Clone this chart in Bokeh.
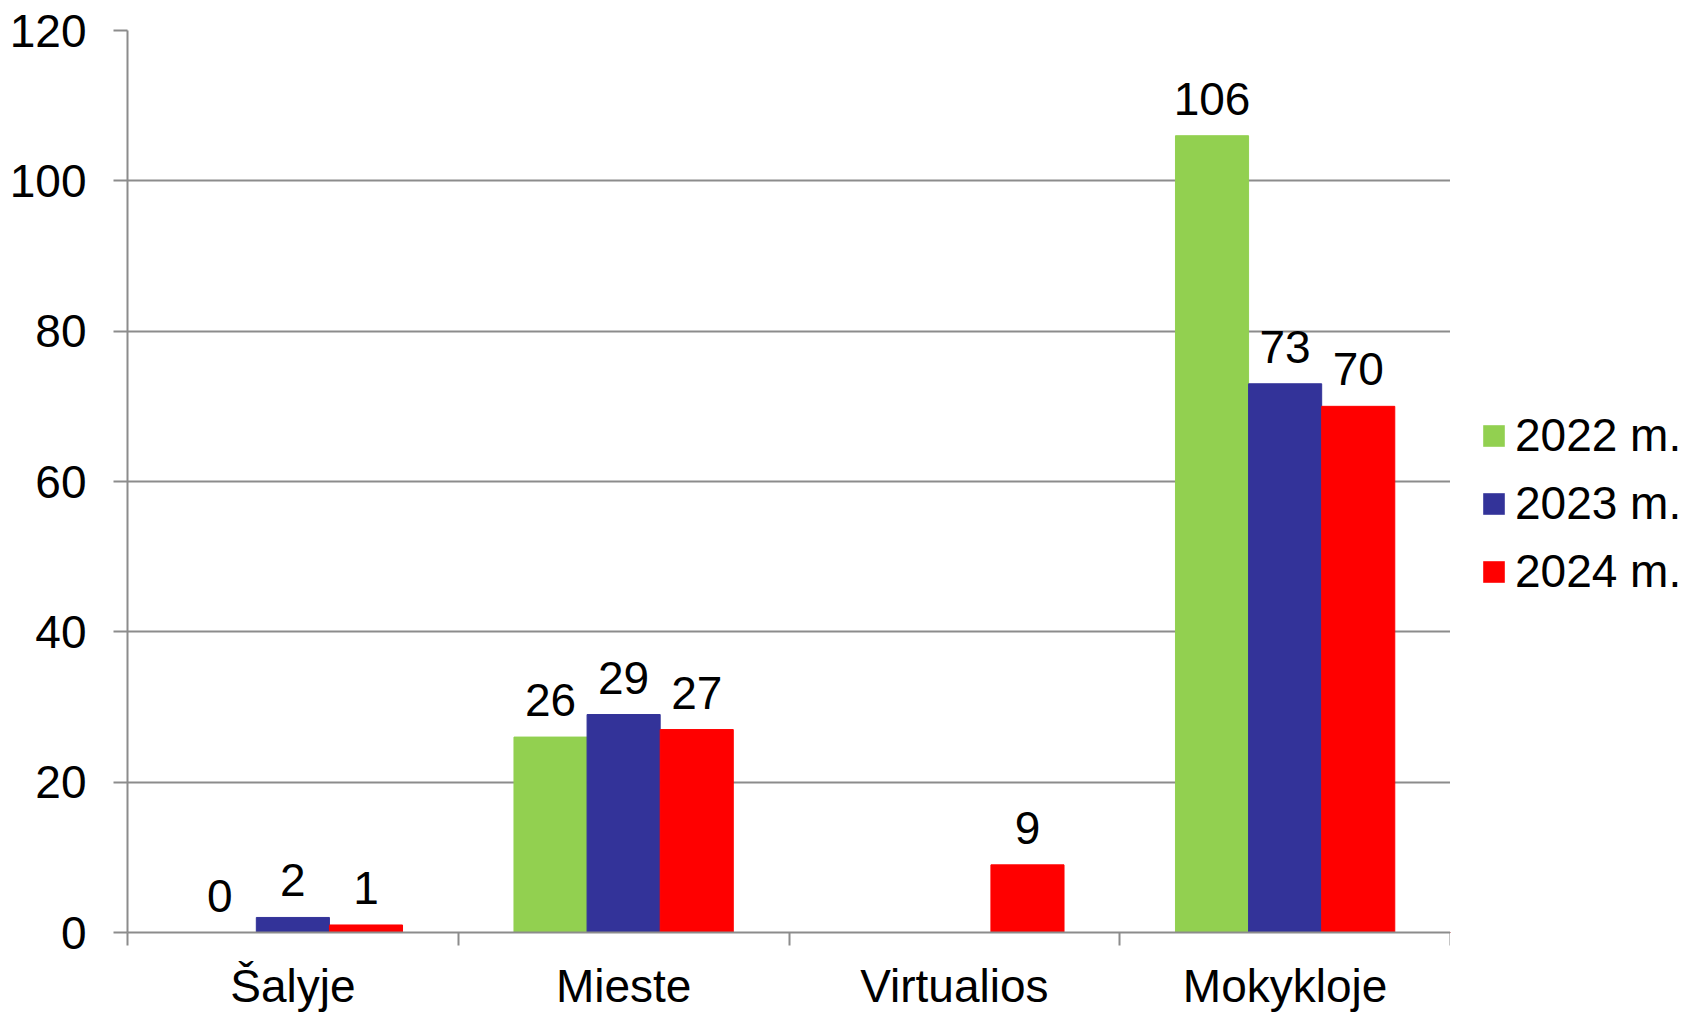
from bokeh.plotting import figure
from bokeh.models import ColumnDataSource, Range1d, FixedTicker, Legend, LegendItem, LabelSet
from bokeh.core.properties import value
from bokeh.layouts import row
from bokeh.embed import file_html
from bokeh.resources import INLINE

categories = ["Šalyje", "Mieste", "Virtualios", "Mokykloje"]
series_names = ["2022 m.", "2023 m.", "2024 m."]
values_2022 = [0, 26, None, 106]
values_2023 = [2, 29, None, 73]
values_2024 = [1, 27, 9, 70]
colors = ["#92D050", "#333399", "#FF0000"]
y_ticks = [0, 20, 40, 60, 80, 100, 120]

FONT = "Liberation Sans"
GRID = "#8c8c8c"
BAR_W = 0.221

p = figure(width=1450, height=1014, output_backend="svg", toolbar_location=None,
           x_range=Range1d(0, len(categories)), y_range=Range1d(0, 120),
           min_border_left=127, min_border_top=30, min_border_right=0,
           min_border_bottom=81)
p.outline_line_color = None
p.background_fill_color = "white"
p.border_fill_color = "white"

# legend panel (separate figure to the right of the chart)
lg = figure(width=240, height=1014, output_backend="svg", toolbar_location=None,
            x_range=Range1d(1000, 1001), y_range=Range1d(1000, 1001),
            x_axis_location=None, y_axis_location=None,
            min_border=0)
lg.outline_line_color = None
lg.xgrid.grid_line_color = None
lg.ygrid.grid_line_color = None
lg.background_fill_color = "white"
lg.border_fill_color = "white"

all_series = [values_2022, values_2023, values_2024]
lx, ly, lt = [], [], []
legend_renderers = []
for j, (vals, col) in enumerate(zip(all_series, colors)):
    xs, tops = [], []
    for i, v in enumerate(vals):
        if v is None:
            continue
        x = i + 0.5 + (j - 1) * BAR_W
        xs.append(x)
        tops.append(v)
        lx.append(x)
        ly.append(v)
        lt.append(str(v))
    src = ColumnDataSource(dict(x=xs, top=tops))
    p.vbar(x="x", top="top", bottom=0, width=BAR_W, source=src,
           fill_color=col, line_color=col, line_width=1)
    # same data in the legend panel, far outside its visible range (only the key shows)
    r = lg.vbar(x="x", top="top", bottom=0, width=BAR_W, source=src,
                fill_color=col, line_color=None)
    legend_renderers.append(r)

lab_src = ColumnDataSource(dict(x=lx, y=ly, t=lt))
labels = LabelSet(x="x", y="y", text="t", source=lab_src, text_font=value(FONT),
                  text_font_size=value("46px"), text_color=value("black"),
                  text_align="center", text_baseline="alphabetic", y_offset=21)
p.add_layout(labels)

# y axis
p.yaxis.ticker = FixedTicker(ticks=y_ticks)
p.yaxis.axis_line_color = GRID
p.yaxis.axis_line_width = 2
p.yaxis.major_tick_line_color = GRID
p.yaxis.major_tick_line_width = 2
p.yaxis.major_tick_out = 14
p.yaxis.major_tick_in = 0
p.yaxis.minor_tick_line_color = None
p.yaxis.major_label_text_font = FONT
p.yaxis.major_label_text_font_size = "46px"
p.yaxis.major_label_text_color = "black"
p.yaxis.major_label_standoff = 27

# x axis
p.xaxis.ticker = FixedTicker(ticks=[i + 0.5 for i in range(len(categories))],
                             minor_ticks=list(range(len(categories) + 1)))
p.xaxis.major_label_overrides = {i + 0.5: c for i, c in enumerate(categories)}
p.xaxis.axis_line_color = GRID
p.xaxis.axis_line_width = 2
p.xaxis.major_tick_line_color = None
p.xaxis.major_tick_out = 13
p.xaxis.major_tick_in = 0
p.xaxis.minor_tick_line_color = GRID
p.xaxis.minor_tick_line_width = 2
p.xaxis.minor_tick_out = 13
p.xaxis.minor_tick_in = 0
p.xaxis.major_label_text_font = FONT
p.xaxis.major_label_text_font_size = "46px"
p.xaxis.major_label_text_color = "black"
p.xaxis.major_label_standoff = 14

p.xgrid.grid_line_color = None
p.ygrid.grid_line_color = GRID
p.ygrid.grid_line_width = 2

legend = Legend(items=[LegendItem(label=n, renderers=[r]) for n, r in zip(series_names, legend_renderers)],
                location=(30, 334), orientation="vertical",
                glyph_width=27, glyph_height=27, label_standoff=8,
                label_text_font=FONT, label_text_font_size="46px",
                label_text_color="black", label_height=51, spacing=14,
                padding=0, margin=0, border_line_color=None,
                background_fill_alpha=0)
lg.add_layout(legend, "center")

layout = row(p, lg, spacing=0)
open("out.html", "w").write(file_html(layout, INLINE))
